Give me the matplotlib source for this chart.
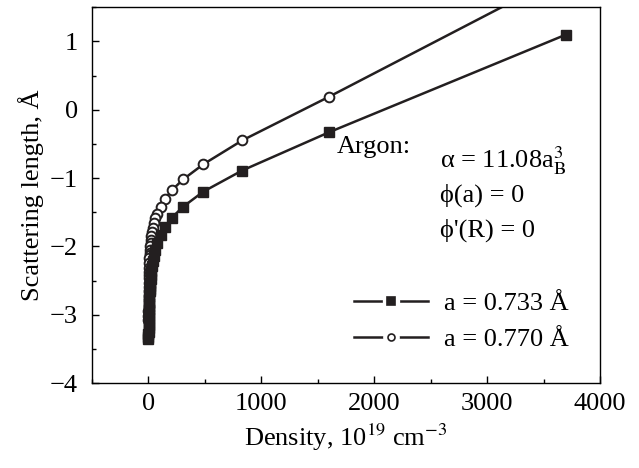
import numpy as np
import matplotlib
matplotlib.use("Agg")
import matplotlib.pyplot as plt
from matplotlib.ticker import MultipleLocator
from matplotlib.lines import Line2D
from matplotlib.legend_handler import HandlerTuple

plt.rcParams['font.family'] = ['Liberation Serif', 'STIXGeneral', 'DejaVu Serif']
plt.rcParams['mathtext.fontset'] = 'stix'
plt.rcParams['font.size'] = 19

# density, 10^19 cm^-3
density = [3700, 1600, 830, 485, 307, 207, 146, 107, 80, 62, 49, 39.2, 31.9,
           26.3, 21.9, 18.5, 15.7, 13.5, 11.7, 10.2, 8.9, 6.93, 5.51, 4.45,
           3.64, 3.02, 2.33, 1.83, 1.37, 0.985, 0.73, 0.436, 0.28, 0.16, 0.1]
# scattering length, A
len_733 = [1.10, -0.33, -0.89, -1.20, -1.42, -1.58, -1.72, -1.84, -1.95, -2.05,
           -2.14, -2.22, -2.29, -2.36, -2.42, -2.48, -2.53, -2.58, -2.62, -2.66,
           -2.70, -2.77, -2.83, -2.88, -2.92, -2.96, -3.01, -3.05, -3.10, -3.15,
           -3.19, -3.25, -3.29, -3.33, -3.36]
len_770 = [1.99, 0.19, -0.45, -0.80, -1.02, -1.18, -1.31, -1.43, -1.52, -1.59,
           -1.66, -1.73, -1.79, -1.85, -1.90, -1.95, -2.00, -2.05, -2.09, -2.13,
           -2.17, -2.24, -2.31, -2.37, -2.42, -2.47, -2.54, -2.60, -2.66, -2.73,
           -2.79, -2.88, -2.95, -3.02, -3.08]

ink = '#231f20'

fig = plt.figure(figsize=(6.39, 4.68), dpi=100)
ax = fig.add_axes([0.144, 0.1816, 0.795, 0.803])

ax.plot(density, len_770, '-o', color=ink, lw=1.8, ms=7,
        mfc='white', mec=ink, mew=1.4)
ax.plot(density, len_733, '-s', color=ink, lw=1.8, ms=7.5,
        mfc=ink, mec=ink)

ax.set_xlim(-500, 4000)
ax.set_ylim(-4, 1.5)
ax.xaxis.set_major_locator(MultipleLocator(1000))
ax.xaxis.set_minor_locator(MultipleLocator(500))
ax.yaxis.set_major_locator(MultipleLocator(1))
ax.yaxis.set_minor_locator(MultipleLocator(0.5))
ax.tick_params(which='both', direction='in', top=False, right=False, width=1)
ax.tick_params(axis='x', which='major', length=5, pad=7)
ax.tick_params(axis='y', which='major', length=5, pad=10)
ax.tick_params(which='minor', length=3)
for s in ax.spines.values():
    s.set_linewidth(1.0)

ax.set_xlabel(r'Density, 10$^{19}$ cm$^{-3}$', labelpad=5)
ax.set_ylabel('Scattering length, Å', labelpad=4)

ax.text(0.482, 0.6125, 'Argon:', transform=ax.transAxes, va='baseline')
ax.text(0.685, 0.5726, r'α = 11.08a$_\mathrm{B}^3$', transform=ax.transAxes, va='baseline')
ax.text(0.685, 0.483, 'ϕ(a) = 0', transform=ax.transAxes, va='baseline')
ax.text(0.685, 0.390, "ϕ'(R) = 0", transform=ax.transAxes, va='baseline')

# legend entries: line with a small gap around the marker
def entry(marker, face, size):
    line = Line2D([], [], color=ink, lw=1.8)
    halo = Line2D([], [], ls='none', marker='o', ms=size + 6, mfc='white', mec='white')
    mark = Line2D([], [], ls='none', marker=marker, ms=size, mfc=face, mec=ink, mew=1.2)
    return (line, halo, mark)

ax.legend([entry('s', ink, 5.5), entry('o', 'white', 5)],
          ['a = 0.733 Å', 'a = 0.770 Å'],
          handler_map={tuple: HandlerTuple(ndivide=1)},
          loc='center left', bbox_to_anchor=(0.490, 0.164),
          frameon=False, borderpad=0, handlelength=2.8,
          handletextpad=0.6, labelspacing=0.5)

fig.savefig('out.png', dpi=100)
